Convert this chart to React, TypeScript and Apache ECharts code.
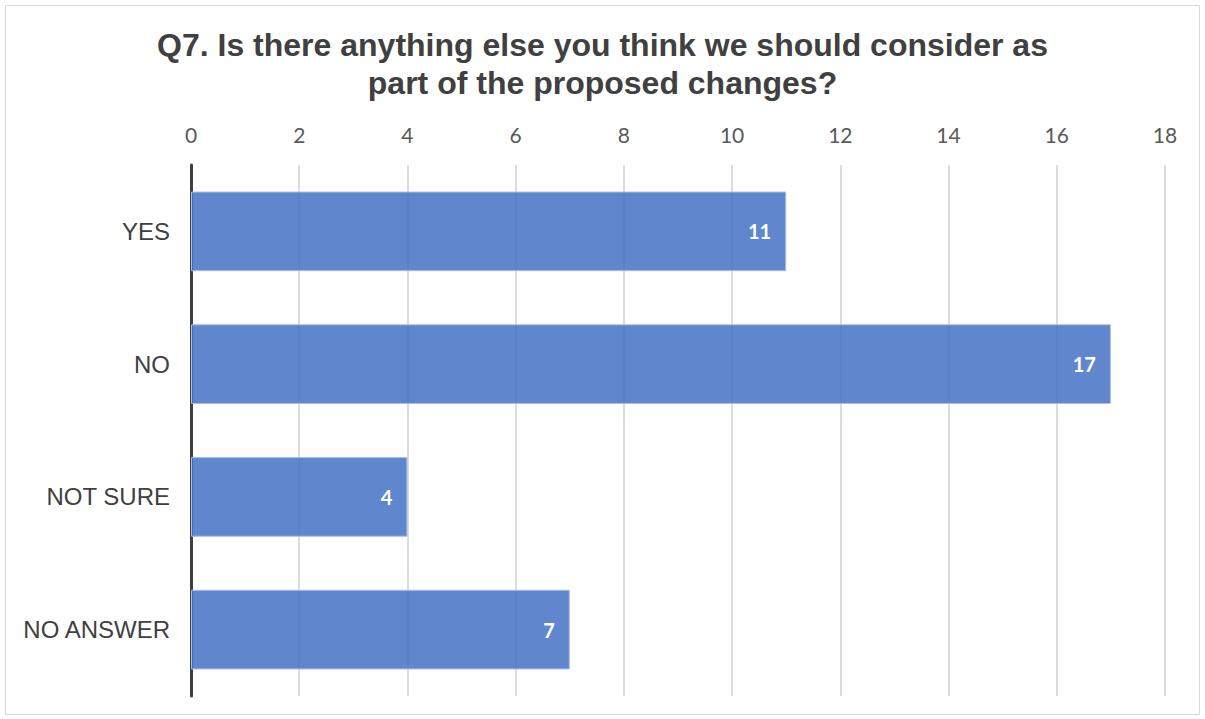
import React, { useEffect, useRef } from "react";
import * as echarts from "echarts";

const categories = ["YES", "NO", "NOT SURE", "NO ANSWER"];
const values = [11, 17, 4, 7];
const titleText = "Q7. Is there anything else you think we should consider as\npart of the proposed changes?";

export default function App() {
  const ref = useRef<HTMLDivElement>(null);
  useEffect(() => {
    document.body.style.margin = "0";
    const chart = echarts.init(ref.current!, null, { renderer: "svg" });
    chart.setOption({
      animation: false,
      backgroundColor: "#ffffff",
      title: {
        text: titleText,
        left: "center",
        top: 21,
        textStyle: {
          fontFamily: "Liberation Sans",
          fontWeight: "bold",
          fontSize: 32,
          lineHeight: 38,
          color: "#404040",
        },
      },
      graphic: [
        {
          type: "rect",
          shape: { x: 5.5, y: 5.5, width: 1194, height: 709 },
          style: { fill: "none", stroke: "#d9d9d9", lineWidth: 1 },
          silent: true,
        },
      ],
      grid: { left: 191, right: 40, top: 165, bottom: 23 },
      xAxis: {
        type: "value",
        position: "top",
        min: 0,
        max: 18,
        interval: 2,
        axisLine: { show: false },
        axisTick: { show: false },
        axisLabel: {
          fontFamily: "Lato",
          fontSize: 21,
          color: "#595959",
          margin: 20,
        },
        splitLine: { lineStyle: { color: "#d0d0d0", width: 1.5 } },
      },
      yAxis: {
        type: "category",
        data: categories,
        inverse: true,
        axisLine: { show: true, lineStyle: { color: "#404040", width: 3 } },
        axisTick: { show: false },
        axisLabel: {
          fontFamily: "Liberation Sans",
          fontSize: 24,
          color: "#404040",
          margin: 21,
        },
      },
      series: [
        {
          type: "bar",
          data: values,
          barCategoryGap: "40%",
          itemStyle: {
            color: "rgba(68,114,196,0.85)",
            borderColor: "#a9bde6",
            borderWidth: 1,
          },
          label: {
            show: true,
            position: "insideRight",
            distance: 15,
            color: "#ffffff",
            fontFamily: "Lato",
            fontWeight: "bold",
            fontSize: 20,
          },
          z: 3,
        },
      ],
    });
    return () => chart.dispose();
  }, []);
  return <div ref={ref} style={{ width: 1205, height: 719 }} />;
}
